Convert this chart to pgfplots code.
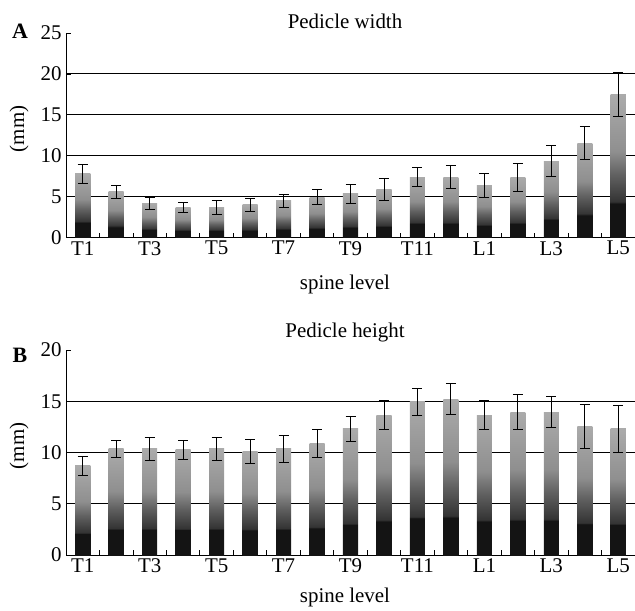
\documentclass[border=0pt]{standalone}
\usepackage{fontspec}
\setmainfont{Liberation Serif}
\usepackage{pgfplots}
\usepackage{pgfplotstable}
\pgfplotsset{compat=1.18}

% bar fill: black foot, dark ramp, grey top (25bp = bar bottom, 75bp = bar top)
\pgfdeclareverticalshading{barshade}{100bp}{%
  color(0bp)=(black!92); color(37bp)=(black!92); color(37.5bp)=(black!80);
  color(47bp)=(black!62); color(55bp)=(black!44); color(75bp)=(black!33);
  color(100bp)=(black!33)}

% level, width, width sd, height, height sd
\pgfplotstableread{
lvl w    we   h     he
1   7.8  1.2  8.7   0.9
2   5.6  0.8  10.35 0.85
3   4.2  0.7  10.35 1.1
4   3.7  0.6  10.25 0.9
5   3.7  0.8  10.35 1.1
6   4.0  0.8  10.1  1.2
7   4.5  0.8  10.35 1.35
8   4.95 0.9  10.9  1.35
9   5.35 1.2  12.3  1.2
10  5.9  1.3  13.65 1.4
11  7.4  1.2  14.95 1.3
12  7.4  1.4  15.2  1.5
13  6.4  1.5  13.65 1.45
14  7.4  1.7  13.95 1.75
15  9.35 1.9  13.95 1.5
16  11.55 2.0 12.55 2.15
17  17.5 2.7  12.3  2.3
}\pedicle

\begin{document}
\begin{tikzpicture}[font=\fontsize{21}{24}\selectfont]
\pgfplotsset{
  panel/.style={
    scale only axis, width=569bp,
    xmin=0.5, xmax=17.5, ymin=0,
    axis lines*=left,
    axis line style={line width=1bp},
    xtick={1,3,...,17},
    xticklabels={T1,T3,T5,T7,T9,T11,L1,L3,L5},
    major x tick style={draw=none},
    minor xtick={1.5,2.5,...,16.5},
    minor tick length=5bp,
    tick align=inside,
    major tick length=5bp,
    tick style={black, line width=0.8bp},
    xticklabel style={yshift=0bp},
    yticklabel style={xshift=-1bp},
    tick label style={font=\fontsize{21}{24}\selectfont},
    /pgf/number format/assume math mode=true,
    extra y tick labels={},
    extra y tick style={grid=major, major tick length=0pt},
    grid style={black, line width=0.9bp},
    clip=false,
  },
  bars/.style={ybar, bar width=0.45, bar shift=0pt, draw=none, shading=barshade},
  errs/.style={draw=none, mark=none,
    error bars/.cd, y dir=both, y explicit, error mark=-,
    error mark options={draw=black, rotate=90, mark size=5bp, line width=0.9bp},
    error bar style={draw=black, line width=0.9bp}},
}
\path[use as bounding box] (0,0) rectangle (635bp,611bp);

% panel A
\begin{axis}[panel, at={(66bp,373.3bp)}, anchor=south west, height=204.7bp,
  ymax=25, ytick={0,5,...,25}, extra y ticks={5,10,15,20}]
\pgfplotsinvokeforeach{1,...,17}{
  \addplot[bars] table[x=lvl, y=w, restrict x to domain=#1:#1] {\pedicle};
}
\addplot[errs] table[x=lvl, y=w, y error=we] {\pedicle};
\end{axis}
\node at (345bp,590bp) {Pedicle width};
\node at (345bp,327bp) {spine level};
\node[rotate=90] at (19bp,482bp) {(mm)};
\node[font=\fontsize{22}{24}\selectfont\bfseries] at (20bp,580bp) {A};

% panel B
\begin{axis}[panel, at={(66bp,56bp)}, anchor=south west, height=205bp,
  ymax=20, ytick={0,5,...,20}, extra y ticks={5,10,15}]
\pgfplotsinvokeforeach{1,...,17}{
  \addplot[bars] table[x=lvl, y=h, restrict x to domain=#1:#1] {\pedicle};
}
\addplot[errs] table[x=lvl, y=h, y error=he] {\pedicle};
\end{axis}
\node at (345bp,278bp) {Pedicle height};
\node at (345bp,14bp) {spine level};
\node[rotate=90] at (19bp,165bp) {(mm)};
\node[font=\fontsize{22}{24}\selectfont\bfseries] at (20bp,256bp) {B};
\end{tikzpicture}
\end{document}
